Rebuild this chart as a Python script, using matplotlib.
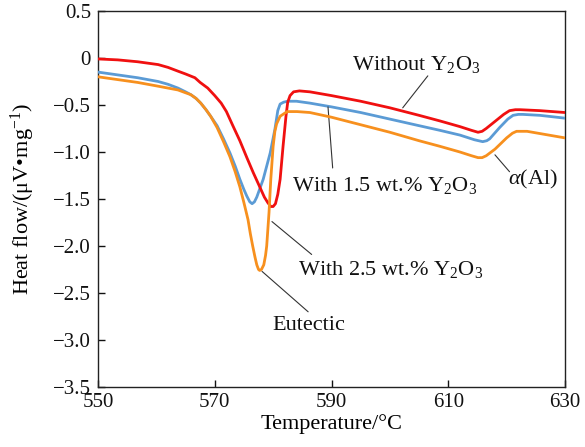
import matplotlib
matplotlib.use("Agg")
import matplotlib.pyplot as plt

plt.rcParams['font.family'] = ['Liberation Serif', 'DejaVu Serif']
plt.rcParams['mathtext.fontset'] = 'custom'
plt.rcParams['mathtext.rm'] = 'Liberation Serif'
plt.rcParams['mathtext.it'] = 'Liberation Serif:italic'
plt.rcParams['mathtext.bf'] = 'Liberation Serif:bold'

# ---------------- data ----------------
t_without = [550, 553.4, 556.8, 560.3, 562, 563.7, 565, 566.6, 567.5, 568.8, 570,
             571.1, 572, 573.1, 574.3, 575.5, 576.6, 577.7, 578.5, 579.1, 579.6,
             580.0, 580.4, 580.8, 581.2, 581.7, 582.2, 582.5, 582.9, 583.5, 584.5,
             586.3, 590, 595, 600, 605, 608.6, 612, 614, 615.1, 615.8, 616.5,
             618.3, 619.5, 620.5, 621.5, 622.3, 625.7, 630]
hf_without = [-0.01, -0.02, -0.04, -0.07, -0.10, -0.14, -0.17, -0.21, -0.26, -0.32, -0.40,
              -0.48, -0.57, -0.72, -0.88, -1.06, -1.22, -1.37, -1.48, -1.54, -1.58,
              -1.58, -1.55, -1.45, -1.29, -0.94, -0.62, -0.47, -0.40, -0.36, -0.35,
              -0.36, -0.40, -0.46, -0.53, -0.61, -0.67, -0.73, -0.77, -0.79, -0.78, -0.75,
              -0.66, -0.60, -0.56, -0.55, -0.55, -0.56, -0.58]

t_15 = [550, 553.4, 556.8, 560.3, 562, 563.7, 565, 565.9, 566.8, 567.6, 568.5,
        569.3, 570.4, 571.5, 572.6, 573.5, 574.3, 575.0, 575.5, 576.0, 576.4,
        576.8, 577.2, 578.3, 579.5, 580.3, 580.8, 581.2, 581.8, 582.5, 584,
        586.3, 590, 595, 600, 605, 608.6, 612, 614.5, 615.9, 616.6, 617.1,
        618.8, 620.2, 621.1, 622.0, 622.8, 625.7, 630]
hf_15 = [-0.15, -0.18, -0.21, -0.25, -0.28, -0.32, -0.36, -0.39, -0.43, -0.48, -0.55,
         -0.62, -0.72, -0.86, -1.01, -1.15, -1.29, -1.40, -1.47, -1.53, -1.55,
         -1.53, -1.48, -1.29, -1.01, -0.76, -0.56, -0.49, -0.47, -0.46, -0.46,
         -0.48, -0.52, -0.58, -0.65, -0.72, -0.77, -0.82, -0.87, -0.89, -0.88, -0.86,
         -0.74, -0.65, -0.61, -0.60, -0.60, -0.61, -0.64]

t_25 = [550, 553.4, 556.8, 560.3, 562, 563.7, 565, 565.9, 566.8, 567.6, 568.5,
        569.3, 570.4, 571.5, 572.6, 573.5, 574.3, 575.0, 575.7, 576.1, 576.5,
        576.9, 577.2, 577.5, 577.7, 578.0, 578.4, 578.7, 578.9, 579.1, 579.3,
        579.6, 580.0, 580.3, 580.6, 581.2, 582.4, 584.1, 586.3, 590, 595, 600,
        605, 608.6, 612, 614, 615.1, 615.8, 616.5, 618.0, 620.0, 621.0, 621.7,
        623.5, 630]
hf_25 = [-0.20, -0.23, -0.26, -0.30, -0.32, -0.34, -0.37, -0.39, -0.43, -0.48, -0.55,
         -0.62, -0.74, -0.89, -1.05, -1.21, -1.37, -1.54, -1.72, -1.87, -2.00,
         -2.12, -2.20, -2.25, -2.26, -2.25, -2.20, -2.10, -2.00, -1.82, -1.64,
         -1.29, -0.94, -0.78, -0.70, -0.62, -0.57, -0.57, -0.58, -0.63, -0.71, -0.79,
         -0.88, -0.94, -1.00, -1.04, -1.06, -1.06, -1.04, -0.97, -0.85, -0.80, -0.78,
         -0.78, -0.85]

x_ticks = [550, 570, 590, 610, 630]
y_ticks = [0.5, 0, -0.5, -1.0, -1.5, -2.0, -2.5, -3.0, -3.5]
y_tick_labels = ['0.5', '0', '\u22120.5', '\u22121.0', '\u22121.5', '\u22122.0',
                 '\u22122.5', '\u22123.0', '\u22123.5']

# annotations: (text, text position, leader start, leader end)
labels = [
    (r'Without Y$_2$O$_3$', (593.5, -0.126), (606.5, -0.19), (602.2, -0.53)),
    (r'With 1.5 wt.% Y$_2$O$_3$', (583.2, -1.42), (589.4, -0.52), (590.2, -1.17)),
    (r'With 2.5 wt.% Y$_2$O$_3$', (584.2, -2.31), (579.8, -1.74), (586.6, -2.09)),
    ('Eutectic', (579.8, -2.89), (578.1, -2.27), (586.0, -2.70)),
    (r'$\alpha$(Al)', (620.2, -1.35), (618.0, -1.03), (620.5, -1.21)),
]

# ---------------- figure ----------------
fig = plt.figure(figsize=(5.85, 4.47), dpi=100)
ax = fig.add_axes([98/585, 1 - 387/447, 467/585, 376/447])

lw = 2.0
ax.plot(t_15, hf_15, color='#5b9bd5', lw=lw, solid_joinstyle='round', zorder=3)
ax.plot(t_without, hf_without, color='#f01010', lw=lw, solid_joinstyle='round', zorder=4)
ax.plot(t_25, hf_25, color='#f7901e', lw=lw, solid_joinstyle='round', zorder=5)

for txt, pos, p0, p1 in labels:
    ax.annotate('', xy=p0, xytext=p1,
                arrowprops=dict(arrowstyle='-', color='#333333', lw=0.8,
                                shrinkA=0, shrinkB=0))
    ax.text(pos[0], pos[1], txt, fontsize=16, ha='left', va='baseline', color='#111111')

ax.set_xlim(550, 630)
ax.set_ylim(-3.5, 0.5)
ax.set_xticks(x_ticks)
ax.set_xticklabels([str(v) for v in x_ticks])
ax.set_yticks(y_ticks)
ax.set_yticklabels(y_tick_labels)
ax.tick_params(axis='both', direction='in', length=5, width=1, labelsize=15,
               colors='#111111')
ax.tick_params(axis='x', pad=4)
ax.tick_params(axis='y', pad=5)
for s in ax.spines.values():
    s.set_linewidth(1.0)
    s.set_color('#222222')

ax.set_xlabel('Temperature/\u00b0C', fontsize=16, labelpad=2)
ax.set_ylabel('Heat flow/(\u03bcV\u2022mg$^{-1}$)', fontsize=16)
ax.yaxis.set_label_coords(-0.13, 0.5)

fig.savefig('out.png', dpi=100)
